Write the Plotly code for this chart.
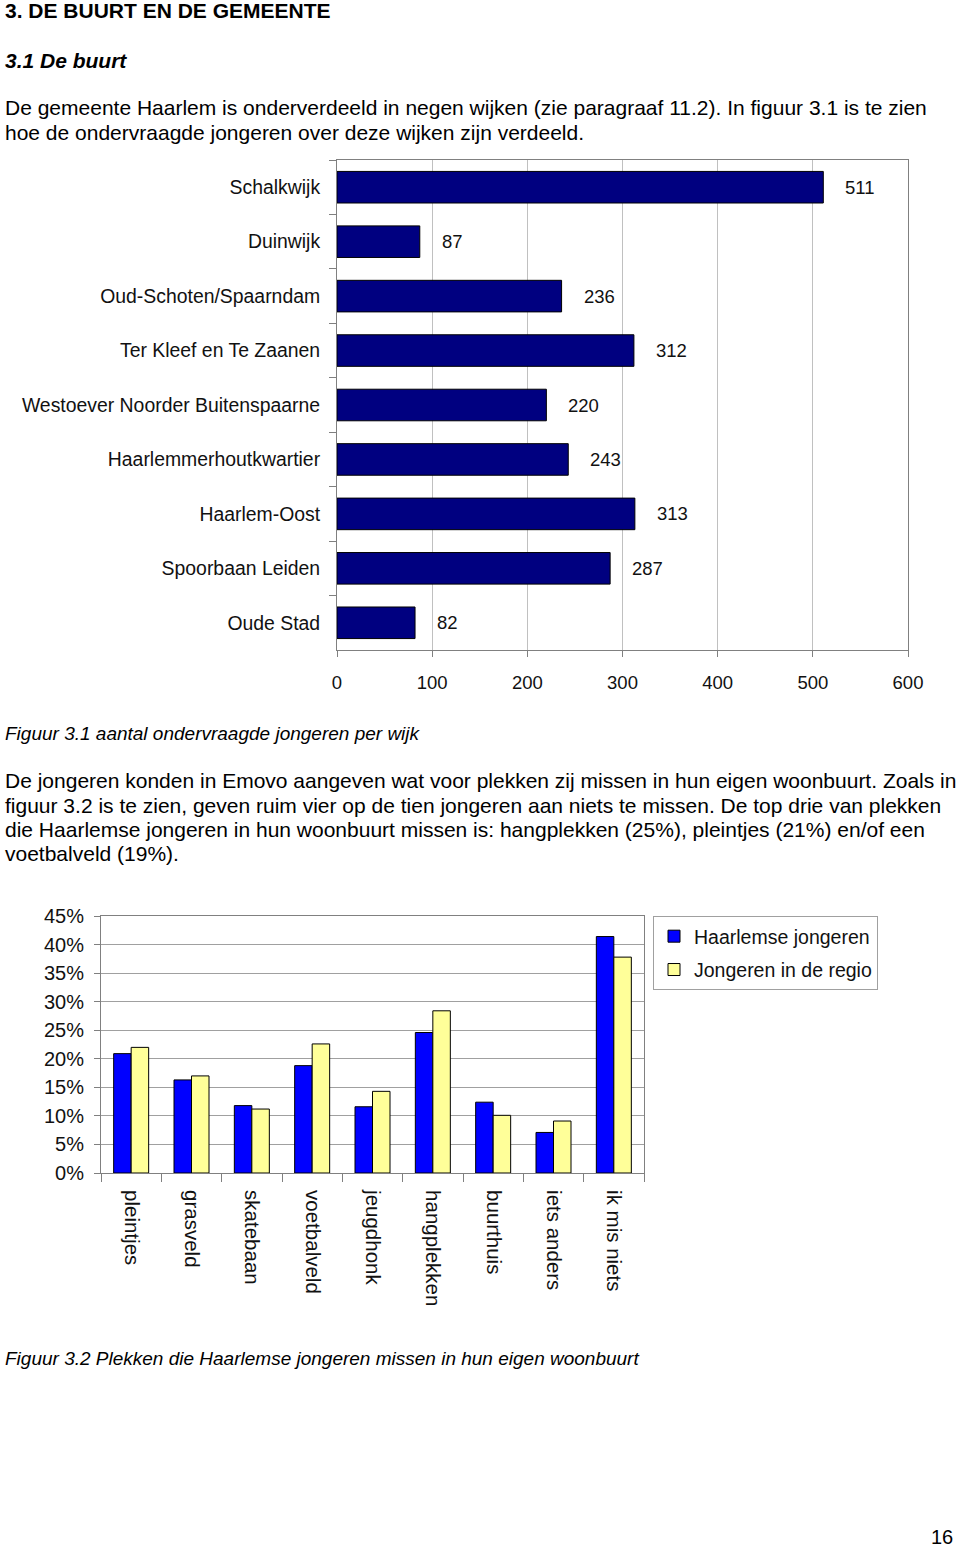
import plotly.graph_objects as go

# Figuur 3.1: aantal ondervraagde jongeren per wijk
wijken = [
    "Schalkwijk", "Duinwijk", "Oud-Schoten/Spaarndam", "Ter Kleef en Te Zaanen",
    "Westoever Noorder Buitenspaarne", "Haarlemmerhoutkwartier", "Haarlem-Oost",
    "Spoorbaan Leiden", "Oude Stad",
]
aantallen = [511, 87, 236, 312, 220, 243, 313, 287, 82]
x_ticks = [0, 100, 200, 300, 400, 500, 600]

# Figuur 3.2: plekken die jongeren missen
plekken = ["pleintjes", "grasveld", "skatebaan", "voetbalveld", "jeugdhonk",
           "hangplekken", "buurthuis", "iets anders", "ik mis niets"]
haarlem = [0.209, 0.163, 0.118, 0.188, 0.116, 0.246, 0.124, 0.071, 0.414]
regio = [0.220, 0.170, 0.112, 0.226, 0.143, 0.284, 0.101, 0.091, 0.378]

W, H = 960, 1547
M = 30  # fixed margin so that page text in the margins never pushes the layout
FONT = "Liberation Sans, Arial, Helvetica, sans-serif"
TXT = "#111111"


def px(x):
    """pixel column on the page -> paper x"""
    return (x - M) / (W - 2 * M)


def py(y):
    """pixel row on the page -> paper y"""
    return 1 - (y - M) / (H - 2 * M)


fig = go.Figure()

fig.add_trace(go.Bar(
    x=aantallen, y=wijken, orientation="h",
    marker=dict(color="#000080", line=dict(color="#000000", width=1)),
    xaxis="x", yaxis="y", showlegend=False,
))

fig.add_trace(go.Bar(
    x=plekken, y=haarlem, name="Haarlemse jongeren", legendgroup="a",
    marker=dict(color="#0000FF", line=dict(color="#000000", width=1)),
    xaxis="x2", yaxis="y2",
))
fig.add_trace(go.Bar(
    x=plekken, y=regio, name="Jongeren in de regio", legendgroup="b",
    marker=dict(color="#FFFF99", line=dict(color="#000000", width=1)),
    xaxis="x2", yaxis="y2",
))

fig.update_layout(
    width=W, height=H, autosize=False,
    margin=dict(l=M, r=M, t=M, b=M, autoexpand=False),
    paper_bgcolor="white", plot_bgcolor="white",
    font=dict(family=FONT, color=TXT, size=19),
    barmode="group", bargap=0.42, bargroupgap=0.0,
    xaxis=dict(
        domain=[px(337), px(908)], anchor="y",
        range=[0, 600], tickvals=x_ticks,
        showgrid=True, gridcolor="#c0c0c0", gridwidth=1,
        showline=True, linecolor="#808080", linewidth=1, mirror=True,
        ticks="outside", ticklen=6, tickcolor="#808080",
        tickfont=dict(size=18.5), ticklabelstandoff=10, zeroline=False,
        automargin=False,
    ),
    yaxis=dict(
        domain=[py(650), py(160)], anchor="x",
        autorange="reversed", type="category",
        showline=True, linecolor="#808080", linewidth=1, mirror=True,
        ticks="outside", ticklen=7, tickcolor="#808080", tickson="boundaries",
        tickfont=dict(size=19.4), ticklabelstandoff=12, showgrid=False,
        automargin=False,
    ),
    xaxis2=dict(
        domain=[px(101), px(644)], anchor="y2", type="category",
        showline=True, linecolor="#808080", linewidth=1, mirror=True,
        ticks="outside", ticklen=8, tickcolor="#808080", tickson="boundaries",
        tickangle=90, tickfont=dict(size=20.5), ticklabelstandoff=12,
        showgrid=False, automargin=False,
    ),
    yaxis2=dict(
        domain=[py(1173), py(916)], anchor="x2",
        range=[0, 0.45], dtick=0.05, tickformat=".0%",
        showgrid=True, gridcolor="#a0a0a0", gridwidth=1,
        showline=True, linecolor="#808080", linewidth=1, mirror=True,
        ticks="outside", ticklen=6, tickcolor="#808080",
        tickfont=dict(size=20), ticklabelstandoff=6, zeroline=False,
        automargin=False,
    ),
    legend=dict(
        x=px(653), y=py(916), xanchor="left", yanchor="top",
        bordercolor="#a0a0a0", borderwidth=1, bgcolor="white",
        font=dict(size=19.5, color=TXT), itemwidth=30, tracegroupgap=5,
    ),
)

# value labels next to the bars of figuur 3.1
for wijk, n in zip(wijken, aantallen):
    fig.add_annotation(
        x=n, y=wijk, xref="x", yref="y", xanchor="left", yanchor="middle",
        xshift=20, showarrow=False, text=str(n),
        font=dict(size=18.5, color=TXT, family=FONT),
    )

# page text
lines = [
    (11, "<b>3. DE BUURT EN DE GEMEENTE</b>", 21),
    (60, "<b><i>3.1 De buurt</i></b>", 21),
    (108, "De gemeente Haarlem is onderverdeeld in negen wijken (zie paragraaf 11.2). In figuur 3.1 is te zien", 21),
    (132, "hoe de ondervraagde jongeren over deze wijken zijn verdeeld.", 21),
    (733, "<i>Figuur 3.1 aantal ondervraagde jongeren per wijk</i>", 19),
    (780, "De jongeren konden in Emovo aangeven wat voor plekken zij missen in hun eigen woonbuurt. Zoals in", 21),
    (805, "figuur 3.2 is te zien, geven ruim vier op de tien jongeren aan niets te missen. De top drie van plekken", 21),
    (829, "die Haarlemse jongeren in hun woonbuurt missen is: hangplekken (25%), pleintjes (21%) en/of een", 21),
    (853, "voetbalveld (19%).", 21),
    (1358, "<i>Figuur 3.2 Plekken die Haarlemse jongeren missen in hun eigen woonbuurt</i>", 19),
]
for ypix, txt, size in lines:
    fig.add_annotation(
        x=px(3), y=py(ypix), xref="paper", yref="paper",
        xanchor="left", yanchor="middle", showarrow=False,
        text=txt, font=dict(size=size, color="#000000", family=FONT),
    )
fig.add_annotation(
    x=px(955), y=py(1537), xref="paper", yref="paper",
    xanchor="right", yanchor="middle", showarrow=False,
    text="16", font=dict(size=20, color="#000000", family=FONT),
)

# drop the default 8px body margin so the page fills the window like the scan
fig.write_html(
    "out.html",
    config={"displayModeBar": False},
    post_script="document.body.style.margin = '0px';",
)
